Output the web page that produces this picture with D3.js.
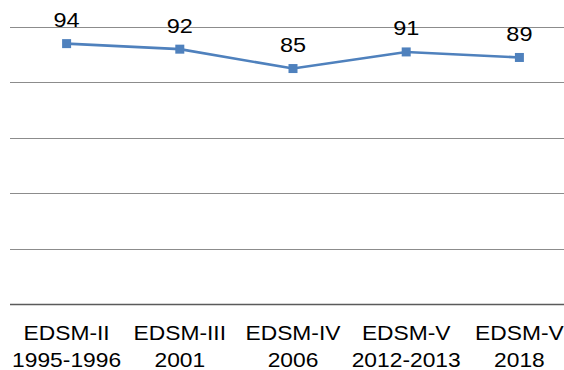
<!DOCTYPE html>
<html>
<head>
<meta charset="utf-8">
<script src="https://cdn.jsdelivr.net/npm/d3@7"></script>
<style>
  html, body { margin: 0; padding: 0; background: #fff; }
  svg { display: block; }
  text { font-family: "Liberation Sans", Arial, sans-serif; fill: #000; }
</style>
</head>
<body>
<div id="chart"></div>
<script>
const surveys = ["EDSM-II", "EDSM-III", "EDSM-IV", "EDSM-V", "EDSM-V"];
const periods = ["1995-1996", "2001", "2006", "2012-2013", "2018"];
const values = [94, 92, 85, 91, 89];
const yTicks = [0, 20, 40, 60, 80, 100];

const W = 564, H = 370;
const svg = d3.select("#chart").append("svg").attr("width", W).attr("height", H);

const keys = surveys.map((s, i) => i);
const x = d3.scaleBand().domain(keys).range([10, 576]).padding(0);
const cx = i => x(i) + x.bandwidth() / 2;
const y = d3.scaleLinear().domain([0, 100]).range([304, 27]);

// gridlines
svg.append("g").selectAll("line").data(yTicks.filter(t => t > 0)).join("line")
  .attr("x1", 10).attr("x2", 576)
  .attr("y1", d => Math.round(y(d)) + 0.5).attr("y2", d => Math.round(y(d)) + 0.5)
  .attr("stroke", "#8c8c8c").attr("stroke-width", 1);

// axis line
svg.append("line")
  .attr("x1", 10).attr("x2", 576)
  .attr("y1", Math.round(y(0)) + 0.5).attr("y2", Math.round(y(0)) + 0.5)
  .attr("stroke", "#5a5a5a").attr("stroke-width", 1.3);

// line
const line = d3.line().x((d, i) => cx(i)).y(d => y(d));
svg.append("path").datum(values)
  .attr("d", line).attr("fill", "none")
  .attr("stroke", "#4F81BD").attr("stroke-width", 2.6);

// markers
svg.append("g").selectAll("rect").data(values).join("rect")
  .attr("x", (d, i) => cx(i) - 4.5).attr("y", d => y(d) - 4.5)
  .attr("width", 9).attr("height", 9)
  .attr("fill", "#4F81BD");

// data labels
svg.append("g").selectAll("text").data(values).join("text")
  .attr("transform", (d, i) => `translate(${cx(i)},${y(d) - 16.5}) scale(1.12,1)`)
  .attr("text-anchor", "middle")
  .style("font-size", "21px")
  .text(d => d);

// category labels
const cat = svg.append("g");
cat.selectAll("text.s").data(surveys).join("text").attr("class", "s")
  .attr("transform", (d, i) => `translate(${cx(i)},339.5) scale(1.14,1)`)
  .attr("text-anchor", "middle")
  .style("font-size", "20px")
  .text(d => d);
cat.selectAll("text.p").data(periods).join("text").attr("class", "p")
  .attr("transform", (d, i) => `translate(${cx(i)},366.5) scale(1.14,1)`)
  .attr("text-anchor", "middle")
  .style("font-size", "20px")
  .text(d => d);
</script>
</body>
</html>
